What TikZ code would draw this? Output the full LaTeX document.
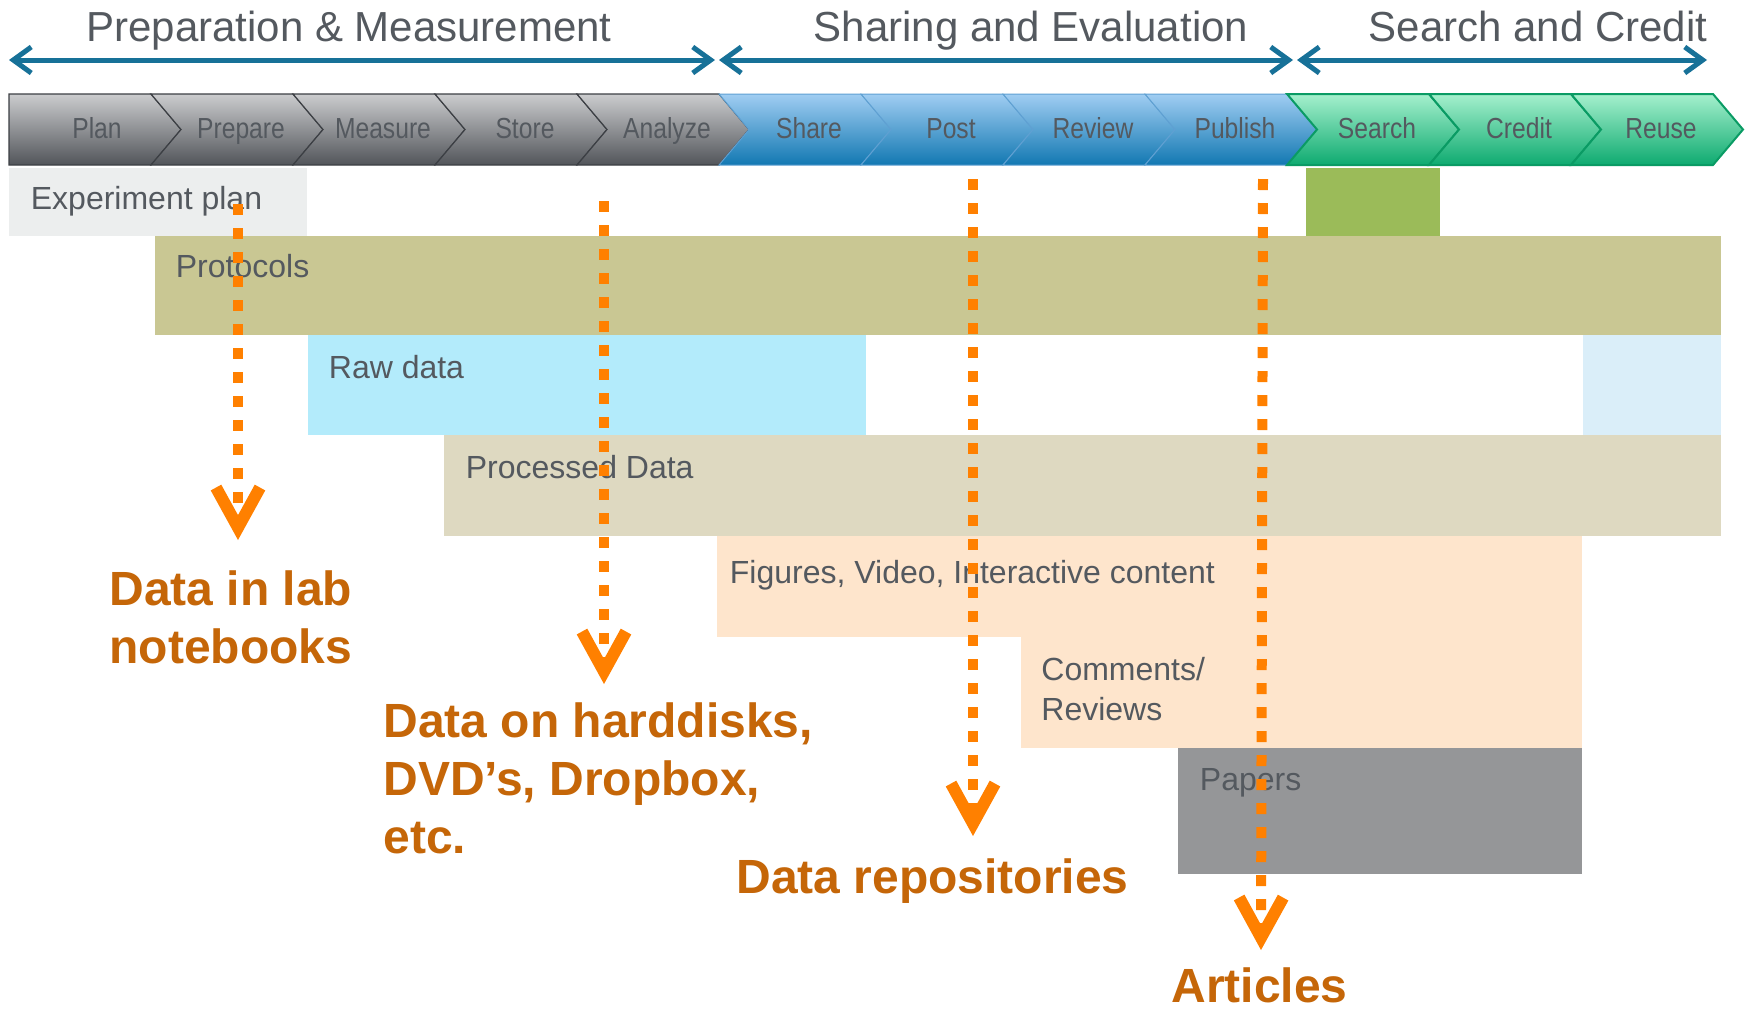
\documentclass[tikz,border=0pt]{standalone}
\usepackage{fontspec}
\setmainfont{Liberation Sans}
\newfontfamily\narrowsans[FakeStretch=0.85]{Liberation Sans}
\usetikzlibrary{arrows.meta}

\definecolor{txtgray}{RGB}{84,89,95}
\definecolor{phaseblue}{RGB}{23,113,152}
\definecolor{dotorange}{RGB}{255,128,0}
\definecolor{outorange}{RGB}{197,102,8}
\definecolor{graytop}{RGB}{203,204,206}
\definecolor{graybot}{RGB}{82,85,90}
\definecolor{grayline}{RGB}{60,63,68}
\definecolor{bluetop}{RGB}{160,205,242}
\definecolor{bluebot}{RGB}{18,120,178}
\definecolor{blueline}{RGB}{95,160,210}
\definecolor{greentop}{RGB}{165,240,205}
\definecolor{greenbot}{RGB}{14,170,112}
\definecolor{greenline}{RGB}{10,155,100}
\definecolor{expfill}{RGB}{236,238,238}
\definecolor{searchfill}{RGB}{155,187,89}
\definecolor{protfill}{RGB}{201,199,147}
\definecolor{rawfill}{RGB}{179,235,251}
\definecolor{rawlight}{RGB}{218,238,249}
\definecolor{procfill}{RGB}{222,217,193}
\definecolor{peachfill}{RGB}{254,229,204}
\definecolor{paperfill}{RGB}{149,150,152}

\begin{document}
\begin{tikzpicture}[x=0.5pt,y=0.5pt,yscale=-1,xscale=1,
    phasetitle/.style={font=\fontsize{21}{25}\selectfont, text=txtgray, inner sep=0.75pt, anchor=base},
    phasearrow/.style={draw=phaseblue, line width=2.5pt, {Straight Barb[length=9pt,width=13pt]}-{Straight Barb[length=9pt,width=13pt]}},
    graystep/.style={draw=grayline, line width=0.6pt, top color=graytop, bottom color=graybot},
    bluestep/.style={draw=blueline, line width=0.5pt, top color=bluetop, bottom color=bluebot},
    greenstep/.style={draw=greenline, line width=1pt, top color=greentop, bottom color=greenbot},
    steplabel/.style={font=\narrowsans\fontsize{14.5}{17}\selectfont, text=txtgray, inner sep=0.75pt, anchor=base},
    rowlabel/.style={font=\fontsize{16}{20}\selectfont, text=txtgray, inner sep=0.75pt, anchor=base west},
    outlabel/.style={font=\bfseries\fontsize{24}{29}\selectfont, text=outorange, inner sep=0.75pt, anchor=north west, align=left},
    dotarrow/.style={draw=dotorange, line width=5pt, dash pattern=on 5.5pt off 6.5pt, -{Straight Barb[length=20pt,width=22pt,line width=6pt]}}]
    \useasboundingbox (0,0) rectangle (1752,1014);
    \fill [white] (0,0) rectangle (1752,1014);
    
    % Text Node
    \draw (349,41) node (prepmeas) [phasetitle] {Preparation \& Measurement};
    % Text Node
    \draw (1031,41) node (shareeval) [phasetitle] {Sharing and Evaluation};
    % Text Node
    \draw (1538,41) node (searchcred) [phasetitle] {Search and Credit};
    
    %Phase arrows
    \coordinate (pa1) at (9,60); \coordinate (pb1) at (715,60);
    \coordinate (pa2) at (719,60); \coordinate (pb2) at (1293,60);
    \coordinate (pa3) at (1297,60); \coordinate (pb3) at (1707,60);
    \draw [phasearrow] (pa1) -- (pb1);
    \draw [phasearrow] (pa2) -- (pb2);
    \draw [phasearrow] (pa3) -- (pb3);
    
    %Shape: Chevron Plan
    \draw [graystep] (9,94) -- (151,94) -- (181,129.5) -- (151,165) -- (9,165) -- cycle ;
    %Shape: Chevron Prepare
    \draw [graystep] (151,94) -- (293,94) -- (323,129.5) -- (293,165) -- (151,165) -- (181,129.5) -- cycle ;
    %Shape: Chevron Measure
    \draw [graystep] (293,94) -- (435,94) -- (465,129.5) -- (435,165) -- (293,165) -- (323,129.5) -- cycle ;
    %Shape: Chevron Store
    \draw [graystep] (435,94) -- (577,94) -- (607,129.5) -- (577,165) -- (435,165) -- (465,129.5) -- cycle ;
    %Shape: Chevron Analyze
    \draw [graystep] (577,94) -- (719,94) -- (749,129.5) -- (719,165) -- (577,165) -- (607,129.5) -- cycle ;
    %Shape: Chevron Share
    \draw [bluestep] (719,94) -- (861,94) -- (891,129.5) -- (861,165) -- (719,165) -- (749,129.5) -- cycle ;
    %Shape: Chevron Post
    \draw [bluestep] (861,94) -- (1003,94) -- (1033,129.5) -- (1003,165) -- (861,165) -- (891,129.5) -- cycle ;
    %Shape: Chevron Review
    \draw [bluestep] (1003,94) -- (1145,94) -- (1175,129.5) -- (1145,165) -- (1003,165) -- (1033,129.5) -- cycle ;
    %Shape: Chevron Publish
    \draw [bluestep] (1145,94) -- (1287,94) -- (1317,129.5) -- (1287,165) -- (1145,165) -- (1175,129.5) -- cycle ;
    %Shape: Chevron Search
    \draw [greenstep] (1287,94) -- (1429,94) -- (1459,129.5) -- (1429,165) -- (1287,165) -- (1317,129.5) -- cycle ;
    %Shape: Chevron Credit
    \draw [greenstep] (1429,94) -- (1571,94) -- (1601,129.5) -- (1571,165) -- (1429,165) -- (1459,129.5) -- cycle ;
    %Shape: Chevron Reuse
    \draw [greenstep] (1571,94) -- (1713,94) -- (1743,129.5) -- (1713,165) -- (1571,165) -- (1601,129.5) -- cycle ;
    
    % Text Node
    \draw (97,138) node (plan) [steplabel] {Plan};
    \draw (241,138) node (prepare) [steplabel] {Prepare};
    \draw (383,138) node (measure) [steplabel] {Measure};
    \draw (525,138) node (store) [steplabel] {Store};
    \draw (667,138) node (analyze) [steplabel] {Analyze};
    \draw (809,138) node (share) [steplabel] {Share};
    \draw (951,138) node (post) [steplabel] {Post};
    \draw (1093,138) node (review) [steplabel] {Review};
    \draw (1235,138) node (publish) [steplabel] {Publish};
    \draw (1377,138) node (search) [steplabel] {Search};
    \draw (1519,138) node (credit) [steplabel] {Credit};
    \draw (1661,138) node (reuse) [steplabel] {Reuse};
    
    %Shape: Rectangle rows
    \fill [expfill] (9,168) rectangle (307,236) ;
    \fill [searchfill] (1306,168) rectangle (1440,236) ;
    \fill [protfill] (155,236) rectangle (1721,335) ;
    \fill [rawfill] (308,335) rectangle (866,435) ;
    \fill [rawlight] (1583,335) rectangle (1721,435) ;
    \fill [procfill] (444,435) rectangle (1721,536) ;
    \fill [peachfill] (717,536) rectangle (1582,637) ;
    \fill [peachfill] (1021,637) rectangle (1582,748) ;
    \fill [paperfill] (1178,748) rectangle (1582,874) ;
    
    % Text Node
    \draw (29,209) node (expplan) [rowlabel] {Experiment plan};
    \draw (174,277) node (protocols) [rowlabel] {Protocols};
    \draw (327,378) node (rawdata) [rowlabel] {Raw data};
    \draw (464,478) node (procdata) [rowlabel] {Processed Data};
    \draw (728,583) node (figures) [rowlabel] {Figures, Video, Interactive content};
    \draw (1039.5,655.5) node (comments) [rowlabel, anchor=north west, align=left] {Comments/\\Reviews};
    \draw (1198,790) node (papers) [rowlabel] {Papers};
    
    % Text Node
    \draw (107.5,568.5) node (labbooks) [outlabel] {Data in lab\\notebooks};
    \draw (381.5,700.5) node (harddisks) [outlabel] {Data on harddisks,\\DVD’s, Dropbox,\\etc.};
    \draw (734.5,856.5) node (repos) [outlabel] {Data repositories};
    \draw (1169.5,966) node (articles) [outlabel] {Articles};
    
    %Dotted arrows
    \coordinate (s1) at (238,204); \coordinate (e1) at (238,540);
    \coordinate (s2) at (604,201); \coordinate (e2) at (604,684);
    \coordinate (s3) at (973,179); \coordinate (e3) at (973,836);
    \coordinate (s4) at (1263,179); \coordinate (e4) at (1261,950);
    \draw [dotarrow] (s1) -- (e1);
    \draw [dotarrow] (s2) -- (e2);
    \draw [dotarrow] (s3) -- (e3);
    \draw [dotarrow] (s4) -- (e4);
    \end{tikzpicture}
\end{document}
